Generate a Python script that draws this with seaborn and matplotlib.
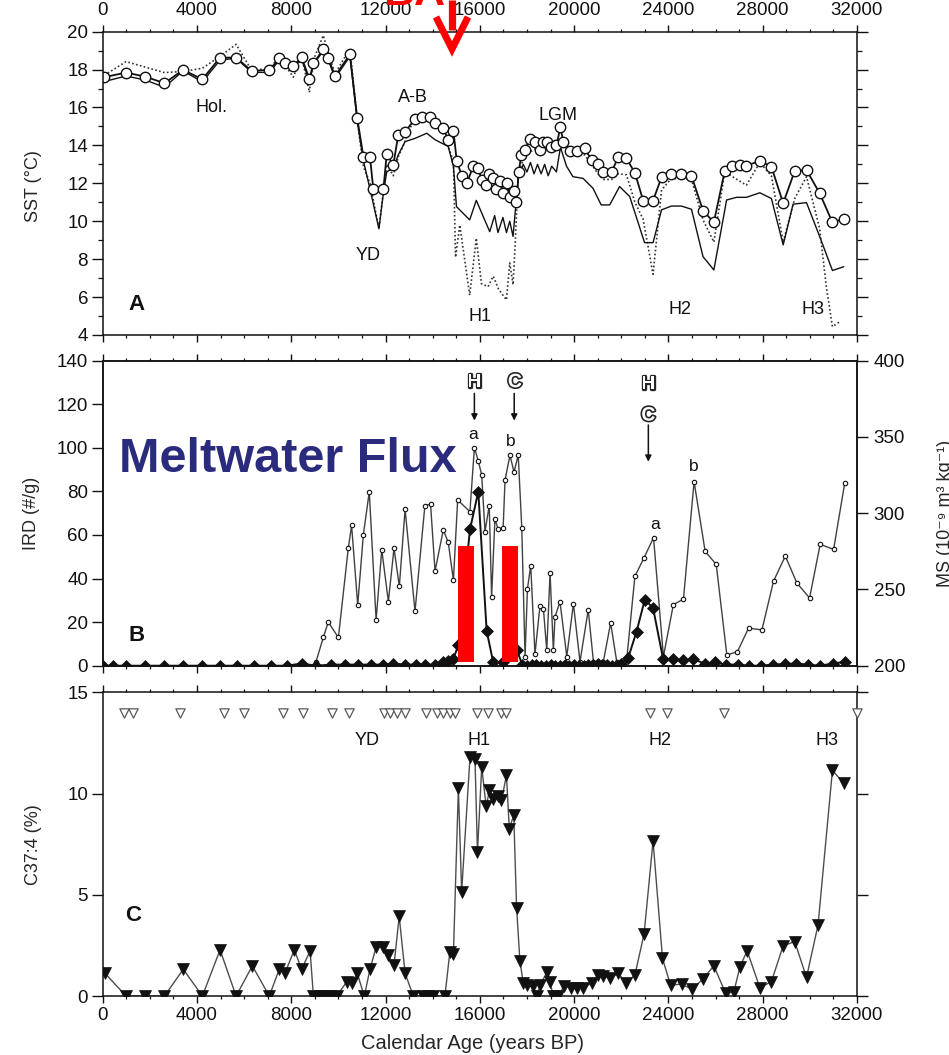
#!/usr/bin/env python3
"""
Three stacked panels of a 0-32 kyr BP sediment core record:
SST estimates (A), IRD + magnetic susceptibility (B), C37:4 (C).
Writes out.png.
"""

import matplotlib

matplotlib.use("Agg")  # headless

import matplotlib.patheffects as pe
import matplotlib.pyplot as plt
import numpy as np
from matplotlib.lines import Line2D
from matplotlib.ticker import MultipleLocator
import seaborn as sns

# ---------------------------------------------------------------- panel A: SST (°C)
sst_circ_age = [70, 990, 1800, 2620, 3410, 4230, 4980, 5660, 6320, 7070, 7500, 7730, 8090,
                8440, 8770, 8940, 9360, 9570, 9860, 10490, 10800, 11060, 11340, 11480, 11910,
                12050, 12330, 12540, 12830, 13250, 13530, 13890, 14100, 14450, 14660, 14880,
                15020, 15230, 15450, 15720, 15930, 16080, 16250, 16400, 16570, 16700, 16850,
                17000, 17150, 17300, 17450, 17550, 17650, 17760, 17910, 18120, 18330, 18550,
                18690, 18830, 19040, 19250, 19420, 19540, 19820, 20130, 20450, 20740, 21020,
                21230, 21590, 21870, 22220, 22580, 22930, 23350, 23710, 24130, 24550, 24980,
                25470, 25930, 26390, 26680, 27030, 27310, 27880, 28370, 28870, 29360, 29860,
                30420, 30960, 31440]
sst_circ = [17.6, 17.84, 17.63, 17.28, 17.98, 17.49, 18.63, 18.63, 17.93, 17.98, 18.59, 18.33,
            18.19, 18.65, 17.5, 18.33, 19.07, 18.59, 17.66, 18.8, 15.43, 13.41, 13.41, 11.7,
            11.7, 13.53, 12.97, 14.55, 14.73, 15.38, 15.48, 15.48, 15.17, 14.9, 14.29, 14.76,
            13.2, 12.4, 12.0, 12.9, 12.8, 12.2, 11.9, 12.5, 12.3, 11.7, 12.1, 11.5, 12.0, 11.3,
            11.6, 11.0, 12.6, 13.5, 13.76, 14.32, 14.2, 13.76, 14.2, 14.2, 13.94, 14.0, 14.96,
            14.2, 13.73, 13.73, 13.85, 13.23, 13.02, 12.6, 12.6, 13.37, 13.32, 12.55, 11.09,
            11.09, 12.32, 12.49, 12.49, 12.39, 10.56, 9.94, 12.65, 12.93, 12.97, 12.93, 13.18,
            12.88, 10.95, 12.65, 12.7, 11.47, 9.94, 10.12]

sst_dot_age = [70, 990, 2620, 3410, 4230, 4980, 5660, 6320, 7070, 7500, 8090, 8440, 8770, 8940,
               9360, 9570, 9860, 10490, 10800, 11060, 11340, 11720, 11910, 12050, 12330, 12540,
               12830, 13250, 13890, 14450, 14880, 14970, 15150, 15570, 15850, 16070, 16350,
               16570, 16800, 17130, 17270, 17410, 17500, 17630, 17910, 18330, 18830, 19420,
               19820, 20450, 21020, 21230, 21590, 21870, 22220, 22580, 22930, 23350, 23710,
               24130, 24980, 25470, 25930, 26390, 27310, 27880, 28370, 28870, 29360, 29860,
               30420, 30700, 30960, 31270]
sst_dot = [17.7, 18.42, 17.84, 17.9, 18.07, 18.7, 19.33, 17.95, 18.07, 18.65, 17.6, 18.7, 16.8,
           18.5, 19.8, 18.86, 17.8, 19.1, 15.3, 12.9, 12.0, 9.6, 11.6, 13.0, 12.4, 13.4, 14.2,
           15.54, 15.54, 14.6, 13.2, 8.1, 9.8, 6.1, 9.1, 6.7, 6.55, 7.1, 6.4, 5.85, 7.8, 6.65,
           8.75, 12.5, 13.5, 13.8, 13.9, 14.3, 13.5, 13.5, 12.5, 12.2, 12.2, 12.5, 12.45, 11.0,
           10.1, 7.2, 11.65, 12.26, 12.2, 10.07, 8.9, 12.6, 11.9, 13.1, 12.4, 8.9, 11.2, 12.35,
           9.6, 6.55, 4.44, 4.7]

sst_low_age = [70, 990, 1800, 2620, 3410, 4230, 4980, 5660, 6320, 7070, 7500, 8090, 8440, 8770,
               8940, 9360, 9570, 9860, 10490, 10800, 11060, 11340, 11720, 11910, 12050, 12330,
               12540, 12830, 13250, 13750, 14100, 14660, 14880, 15010, 15570, 15850, 16420,
               16630, 16770, 16980, 17130, 17270, 17410, 17630, 17840, 18000, 18150, 18300,
               18450, 18600, 18750, 18900, 19050, 19250, 19420, 19680, 19950, 20380, 20800,
               21150, 21510, 21930, 22360, 22990, 23350, 23710, 24130, 24550, 24980, 25470,
               25930, 26470, 26890, 27310, 27880, 28370, 28870, 29290, 29860, 30420, 30960, 31440]
sst_low = [17.37, 17.66, 17.45, 17.07, 17.93, 17.35, 18.5, 18.6, 17.85, 17.85, 18.5, 18.1, 18.55,
           17.4, 18.25, 19.0, 18.5, 17.55, 18.7, 15.3, 13.2, 11.7, 9.6, 11.5, 12.6, 12.8, 13.5,
           14.2, 14.37, 14.64, 14.3, 13.94, 12.9, 10.77, 10.07, 11.1, 9.45, 10.3, 9.4, 10.2, 9.4,
           10.0, 9.2, 12.3, 13.0, 12.6, 13.1, 12.5, 13.0, 12.5, 13.0, 12.4, 12.9, 12.6, 13.9,
           12.9, 12.35, 12.26, 11.74, 10.86, 10.86, 11.83, 11.3, 8.87, 8.87, 10.6, 10.8, 10.8,
           10.63, 8.13, 7.43, 11.12, 11.26, 11.26, 11.5, 11.2, 8.75, 10.9, 10.98, 9.19, 7.4, 7.6]

# ---------------------------------------------------------------- panel B: IRD (#/g) and MS
ird_age = [28, 424, 990, 1796, 2616, 3408, 4228, 4978, 5713, 6434, 7127, 7805, 8441, 9050, 9686,
           10280, 10846, 11369, 11878, 12330, 12826, 13292, 13674, 14098, 14452, 14664, 14876,
           15090, 15583, 15935, 16290, 16570, 16990, 17580, 17800, 18000, 18200, 18400, 18600,
           18800, 19000, 19200, 19400, 19600, 19800, 20000, 20200, 20400, 20600, 20800, 21000,
           21200, 21400, 21600, 21800, 22000, 22290, 22650, 23000, 23350, 23780, 24200, 24620,
           25050, 25540, 25960, 26450, 26950, 27440, 27940, 28430, 28930, 29420, 29920, 30420,
           30980, 31490]
ird = [0, 0, 0, 0, 0, 0, 0, 0, 0, 0, 0, 0, 1, 0, 0.5, 0.5, 0.5, 0.5, 0.5, 1, 0.5, 0.5, 0.5,
       0.5, 1.8, 2, 3, 9.5, 62.6, 79.9, 16, 1.5, 1.8, 7, 0.5, 0, 0.5, 0.5, 0, 0, 0.5, 0, 0,
       0.5, 0, 0.5, 0, 0, 0.5, 0.5, 1, 0.5, 0.5, 0, 0, 1, 3.4, 15.7, 30.3, 26.5, 2.9, 3, 2.5,
       3, 1, 1.5, 0.5, 0.5, 0, 0, 0.5, 0.8, 1, 0.5, 0, 1, 1.8]

ms_age = [9050, 9360, 9570, 10000, 10420, 10560, 10820, 11060, 11310, 11600, 11840, 12120, 12360,
          12585, 12830, 13250, 13670, 13910, 14100, 14450, 14660, 14880, 15060, 15580, 15770,
          15940, 16080, 16220, 16400, 16500, 16640, 16780, 16990, 17070, 17280, 17450, 17630,
          17780, 17920, 18020, 18160, 18340, 18550, 18700, 18840, 18980, 19120, 19190, 19400,
          19690, 19970, 20250, 20600, 20820, 21240, 21550, 21810, 22230, 22580, 22970, 23370,
          23790, 24210, 24640, 25090, 25560, 26030, 26480, 26930, 27400, 27970, 28460, 28960,
          29450, 29990, 30440, 31010, 31480]
ms = [202.6, 218.5, 228.6, 218.5, 277, 292, 239.8, 286, 314, 230, 276, 242, 277, 252, 302.6,
      235.6, 305, 306, 262, 289, 281, 256, 308.7, 301, 343, 334, 325, 288, 305, 245, 296, 289.5,
      290.5, 321.8, 338, 327, 338, 290.5, 206, 250.3, 265.7, 207.5, 239, 237, 210, 261, 210, 232,
      242, 206, 240.7, 202.6, 236.7, 202.6, 202.6, 228, 202.6, 203.7, 258.7, 270.8, 284, 206,
      240, 243.7, 320.7, 275, 266.4, 207, 209.2, 224.6, 223.5, 255.4, 271.9, 254.3, 244.4, 279.6,
      276.3, 319.6]

# red "meltwater" bars drawn over panel B (age bounds, IRD scale)
red_bar_start = [15090, 16955]
red_bar_end = [15770, 17610]
red_bar_bottom = [1.7, 1.7]
red_bar_top = [55, 55]

# ---------------------------------------------------------------- panel C: C37:4 (%)
c374_age = [100, 990, 1800, 2620, 3420, 4230, 4980, 5660, 6350, 7070, 7490, 7730, 8130, 8440,
            8800, 8940, 9220, 9430, 9640, 9930, 10350, 10560, 10800, 11100, 11340, 11600, 11880,
            12090, 12360, 12580, 12830, 13180, 13570, 13810, 14030, 14520, 14730, 14880, 15090,
            15230, 15583, 15795, 15900, 16080, 16270, 16410, 16570, 16780, 16920, 17130, 17250,
            17440, 17560, 17700, 17840, 18010, 18240, 18440, 18550, 18860, 18970, 19120, 19330,
            19570, 19850, 20110, 20390, 20740, 21030, 21240, 21520, 21880, 22200, 22580, 22970,
            23350, 23750, 24090, 24560, 25010, 25450, 25930, 26430, 26780, 27030, 27340, 27880,
            28370, 28870, 29360, 29860, 30350, 30960, 31440]
c374 = [1.12, 0, 0, 0, 1.32, 0, 2.28, 0, 1.49, 0, 1.32, 1.12, 2.28, 1.32, 2.23, 0, 0, 0, 0, 0,
        0.7, 0.66, 1.12, 0, 1.32, 2.41, 2.41, 2.03, 1.53, 3.93, 1.12, 0, 0, 0, 0, 0, 2.19, 2.06,
        10.25, 5.16, 11.8, 11.73, 7.1, 11.3, 9.37, 10.16, 9.75, 9.9, 9.67, 10.9, 8.27, 8.93,
        4.37, 1.75, 0.66, 0.54, 0.5, 0, 0.54, 1.2, 0.71, 0, 0, 0.5, 0.41, 0.41, 0.41, 0.63, 1.04,
        0.99, 0.87, 1.12, 0.63, 1.04, 3.07, 7.66, 1.86, 0.54, 0.59, 0.33, 0.83, 1.49, 0.13, 0.21,
        1.42, 2.24, 0.41, 0.71, 2.48, 2.69, 0.92, 3.51, 11.15, 10.5]

# ages of the dating points (open triangles along the top of panel C)
dated_age = [905, 1300, 3280, 5150, 5990, 7660, 8480, 9740, 10460, 11950, 12190, 12470, 12820,
             13710, 14170, 14450, 14730, 14950, 15880, 16350, 16900, 17110, 23220, 23950, 26360,
             31990]
dated_level = 14.0

INK = "#111111"
NAVY = "#2b2b7d"
RED = "#ff0000"


def _axes_style(ax, xlabels_top=False, xlabels_bottom=False):
    ax.set_xlim(0, 32000)
    ax.xaxis.set_major_locator(MultipleLocator(4000))
    ax.xaxis.set_minor_locator(MultipleLocator(1000))
    ax.tick_params(axis="x", which="both", direction="out", top=True, bottom=True,
                   labeltop=xlabels_top, labelbottom=xlabels_bottom, colors=INK,
                   labelsize=13.5, pad=3)
    ax.tick_params(axis="x", which="major", length=5, width=1.0)
    ax.tick_params(axis="x", which="minor", length=2.5, width=0.9)
    ax.tick_params(axis="y", which="both", direction="out", colors=INK, labelsize=13.5, pad=2.5)
    ax.tick_params(axis="y", which="major", length=8, width=1.0)
    ax.tick_params(axis="y", which="minor", length=3.5, width=0.9)
    for sp in ax.spines.values():
        sp.set_visible(True)
        sp.set_linewidth(1.1)
        sp.set_color(INK)
    ax.set_xlabel("")
    ax.grid(False)


def _outline_letter(ax, x, y, s, **kw):
    ax.text(x, y, s, ha="center", va="center", fontsize=14, fontweight="bold", color="white",
            path_effects=[pe.withStroke(linewidth=2.4, foreground="0.15")], **kw)


def main() -> None:
    sns.set_theme(style="ticks")
    plt.rcParams["font.family"] = ["Liberation Sans", "DejaVu Sans"]
    plt.rcParams["axes.unicode_minus"] = False

    fig = plt.figure(figsize=(9.49, 10.55), dpi=100)
    left, width = 0.1082, 0.7948
    ax_a = fig.add_axes([left, 0.6825, width, 0.2875])
    ax_b = fig.add_axes([left, 0.3690, width, 0.2891])
    ax_c = fig.add_axes([left, 0.0559, width, 0.2879])

    # ------------------------------------------------------------ A
    sns.lineplot(x=sst_dot_age, y=sst_dot, ax=ax_a, estimator=None, sort=False, color="0.2",
                 linewidth=1.2, linestyle=(0, (1.0, 1.4)), legend=False)
    sns.lineplot(x=sst_low_age, y=sst_low, ax=ax_a, estimator=None, sort=False, color=INK,
                 linewidth=1.0, legend=False)
    sns.lineplot(x=sst_circ_age, y=sst_circ, ax=ax_a, estimator=None, sort=False, color=INK,
                 linewidth=1.3, marker="o", markersize=7.5, markerfacecolor="white",
                 markeredgecolor=INK, markeredgewidth=1.0, legend=False)
    _axes_style(ax_a, xlabels_top=True)
    ax_a.tick_params(axis="x", which="both", pad=4)
    ax_a.set_ylim(4, 20)
    ax_a.yaxis.set_major_locator(MultipleLocator(2))
    ax_a.yaxis.set_minor_locator(MultipleLocator(1))
    ax_a.tick_params(axis="y", which="both", left=True, right=True, labelright=False)
    ax_a.set_ylabel("SST (°C)", fontsize=13)
    ax_a.yaxis.set_label_coords(-0.081, 0.49)
    for txt, t, v in [("Hol.", 4600, 16.0), ("A-B", 13165, 16.5), ("LGM", 19320, 15.6),
                      ("YD", 11260, 8.2), ("H1", 16010, 5.0), ("H2", 24490, 5.35),
                      ("H3", 30140, 5.35)]:
        ax_a.text(t, v, txt, ha="center", va="center", fontsize=13, color=INK)
    ax_a.text(1450, 5.6, "A", ha="center", va="center", fontsize=16, fontweight="bold",
              color=INK)

    # ------------------------------------------------------------ B
    ax_b2 = ax_b.twinx()
    sns.lineplot(x=ms_age, y=ms, ax=ax_b2, estimator=None, sort=False, color="0.25",
                 linewidth=1.0, marker="o", markersize=3.2, markerfacecolor="white",
                 markeredgecolor=INK, markeredgewidth=0.8, legend=False)
    sns.lineplot(x=ird_age, y=ird, ax=ax_b, estimator=None, sort=False, color=INK,
                 linewidth=1.4, marker="D", markersize=6.5, markerfacecolor=INK,
                 markeredgecolor=INK, markeredgewidth=0.5, legend=False)
    ax_b.bar(red_bar_start, np.subtract(red_bar_top, red_bar_bottom),
             width=np.subtract(red_bar_end, red_bar_start), bottom=red_bar_bottom,
             align="edge", color=RED, linewidth=0, zorder=6)
    ax_b.set_zorder(ax_b2.get_zorder() + 1)
    ax_b.patch.set_visible(False)

    _axes_style(ax_b)
    ax_b.set_ylim(0, 140)
    ax_b.yaxis.set_major_locator(MultipleLocator(20))
    ax_b.tick_params(axis="y", left=True, right=False)
    ax_b.set_ylabel("IRD (#/g)", fontsize=13)
    ax_b.yaxis.set_label_coords(-0.083, 0.5)

    ax_b2.set_xlim(0, 32000)
    ax_b2.set_ylim(200, 400)
    ax_b2.yaxis.set_major_locator(MultipleLocator(50))
    ax_b2.tick_params(axis="y", direction="out", length=8, width=1.0, colors=INK,
                      labelsize=13.5, pad=4, right=True, labelright=True)
    for sp in ax_b2.spines.values():
        sp.set_linewidth(1.1)
        sp.set_color(INK)
    ax_b2.grid(False)
    # the reference crops this label at the right edge of the picture
    ax_b2.set_ylabel("MS (10⁻⁹ m³ kg⁻¹)", fontsize=13, rotation=90)
    ax_b2.yaxis.set_label_coords(1.106, 0.5)
    ax_b2.yaxis.label.set_va("top")

    ax_b.text(1450, 14, "B", ha="center", va="center", fontsize=16, fontweight="bold",
              color=INK)
    arrow = dict(arrowstyle="-|>", color=INK, lw=1.1, mutation_scale=9, shrinkA=0, shrinkB=0)
    _outline_letter(ax_b, 15770, 129.9, "H")
    ax_b.annotate("", xy=(15770, 112.5), xytext=(15770, 125), arrowprops=arrow)
    ax_b.text(15700, 106, "a", ha="center", va="center", fontsize=12.5, color=INK)
    _outline_letter(ax_b, 17490, 129.9, "C")
    ax_b.annotate("", xy=(17460, 112.5), xytext=(17460, 125), arrowprops=arrow)
    ax_b.text(17320, 103, "b", ha="center", va="center", fontsize=12.5, color=INK)
    _outline_letter(ax_b, 23150, 129.1, "H")
    _outline_letter(ax_b, 23150, 114.6, "C")
    ax_b.annotate("", xy=(23150, 93.6), xytext=(23150, 110.5), arrowprops=arrow)
    ax_b.text(23430, 64.6, "a", ha="center", va="center", fontsize=12.5, color=INK)
    ax_b.text(25090, 91.6, "b", ha="center", va="center", fontsize=12.5, color=INK)

    # ------------------------------------------------------------ C
    sns.lineplot(x=c374_age, y=c374, ax=ax_c, estimator=None, sort=False, color="0.3",
                 linewidth=1.0, marker="v", markersize=8, markerfacecolor=INK,
                 markeredgecolor=INK, markeredgewidth=0.5, legend=False)
    sns.scatterplot(x=dated_age, y=np.full(len(dated_age), dated_level), ax=ax_c, marker="v",
                    s=45, facecolor="white", edgecolor="0.35", linewidth=0.9, clip_on=False,
                    zorder=5, legend=False)
    _axes_style(ax_c, xlabels_bottom=True)
    ax_c.set_ylim(0, 15)
    ax_c.yaxis.set_major_locator(MultipleLocator(5))
    ax_c.tick_params(axis="y", which="both", left=True, right=True, labelright=False)
    ax_c.set_ylabel("C37:4 (%)", fontsize=13)
    ax_c.yaxis.set_label_coords(-0.081, 0.5)
    ax_c.set_xlabel("Calendar Age (years BP)", fontsize=14.5)
    ax_c.xaxis.set_label_coords(0.49, -0.125)
    for txt, t in [("YD", 11200), ("H1", 15980), ("H2", 23640), ("H3", 30710)]:
        ax_c.text(t, 12.6, txt, ha="center", va="center", fontsize=13, color=INK)
    ax_c.text(1300, 4.0, "C", ha="center", va="center", fontsize=16, fontweight="bold",
              color=INK)

    # ------------------------------------------------------------ overlays
    fig.text(288 / 949, 1 - 471.7 / 1055, "Meltwater Flux", ha="center", va="baseline",
             fontsize=35, fontweight="bold", color=NAVY)
    # red heading above the figure, only its lowest strip is inside the picture
    fig.text(414 / 949, 1 - 5 / 1055, "BA", ha="center", va="baseline", fontsize=31,
             fontweight="bold", color=RED)
    W, H = 949.0, 1055.0
    fig.add_artist(Line2D([452 / W, 452 / W], [1.0, 1 - 30 / H], color=RED, lw=5.2,
                          solid_capstyle="butt"))
    fig.add_artist(Line2D([436 / W, 452 / W, 468 / W], [1 - 17 / H, 1 - 49 / H, 1 - 17 / H],
                          color=RED, lw=5.0, solid_joinstyle="miter", solid_capstyle="butt"))

    fig.savefig("out.png", dpi=100)
    plt.close(fig)


if __name__ == "__main__":
    main()
